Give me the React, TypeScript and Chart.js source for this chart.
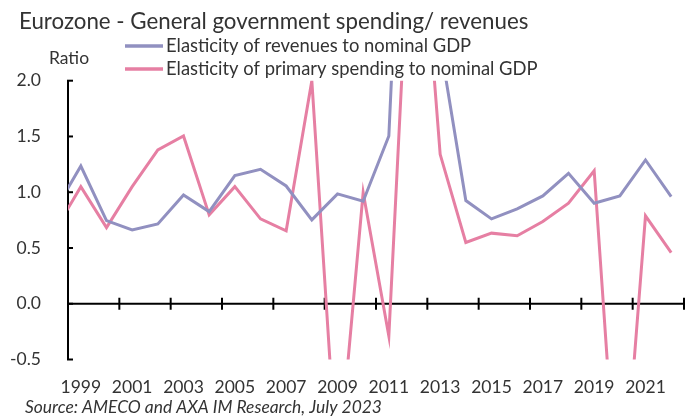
import React, { useEffect, useRef } from "react";
import { Chart, registerables } from "chart.js";

Chart.register(...registerables);

// ---- data ----
const years = [
  1998, 1999, 2000, 2001, 2002, 2003, 2004, 2005, 2006, 2007, 2008, 2009, 2010,
  2011, 2012, 2013, 2014, 2015, 2016, 2017, 2018, 2019, 2020, 2021, 2022,
];
const revenuesElasticity = [
  0.84, 1.235, 0.745, 0.662, 0.716, 0.976, 0.826, 1.149, 1.205, 1.056, 0.752,
  0.985, 0.919, 1.504, 6.5, 2.33, 0.925, 0.761, 0.85, 0.967, 1.17, 0.901, 0.967,
  1.289, 0.961,
];
const spendingElasticity = [
  0.66, 1.05, 0.683, 1.05, 1.379, 1.504, 0.797, 1.05, 0.761, 0.654, 2.0, -1.56,
  0.997, -0.29, 4.3, 1.34, 0.549, 0.633, 0.609, 0.737, 0.901, 1.193, -2.15,
  0.788, 0.459,
];
const xTickYears = [1999, 2001, 2003, 2005, 2007, 2009, 2011, 2013, 2015, 2017, 2019, 2021];
const seriesLabels = [
  "Elasticity of revenues to nominal GDP",
  "Elasticity of primary spending to nominal GDP",
];
const titleText = "Eurozone - General government spending/ revenues";
const yAxisTitle = "Ratio";
const sourceText = "Source: AMECO and AXA IM Research, July 2023";

const FONT = "Lato, 'Open Sans', sans-serif";
const TEXT_COLOR = "#333333";
const BLUE = "#9190C0";
const PINK = "#E67FA3";

const axesPlugin = {
  id: "customAxes",
  beforeDatasetsDraw(chart: any) {
    const { ctx, chartArea, scales } = chart;
    const xs = scales.x;
    const ys = scales.y;
    ctx.save();
    ctx.strokeStyle = "#000000";
    ctx.lineWidth = 2;
    // y axis line
    const left = chartArea.left;
    ctx.beginPath();
    ctx.moveTo(left, ys.getPixelForValue(ys.max));
    ctx.lineTo(left, ys.getPixelForValue(ys.min));
    ctx.stroke();
    // y ticks (inside)
    ys.ticks.forEach((t: any) => {
      const py = ys.getPixelForValue(t.value);
      ctx.beginPath();
      ctx.moveTo(left - 1, py);
      ctx.lineTo(left + 5, py);
      ctx.stroke();
    });
    // x axis line at y = 0
    const y0 = ys.getPixelForValue(0);
    ctx.beginPath();
    ctx.moveTo(xs.getPixelForValue(xs.min), y0);
    ctx.lineTo(xs.getPixelForValue(xs.max), y0);
    ctx.stroke();
    for (let v = xs.min; v <= xs.max + 1e-9; v += 2) {
      const px = xs.getPixelForValue(v);
      ctx.beginPath();
      ctx.moveTo(px, y0 - 6);
      ctx.lineTo(px, y0 + 6);
      ctx.stroke();
    }
    ctx.restore();
  },
};

const textPlugin = {
  id: "customTexts",
  afterDraw(chart: any) {
    const { ctx } = chart;
    ctx.save();
    ctx.fillStyle = TEXT_COLOR;
    ctx.textAlign = "left";
    ctx.textBaseline = "alphabetic";
    ctx.font = `22.3px ${FONT}`;
    ctx.fillText(titleText, 19, 29);

    ctx.textBaseline = "middle";
    ctx.font = `17.5px ${FONT}`;
    ctx.textAlign = "center";
    ctx.fillText(yAxisTitle, 69, 58);

    // legend
    ctx.textAlign = "left";
    chart.data.datasets.forEach((ds: any, i: number) => {
      const y = 46 + i * 23;
      ctx.strokeStyle = ds.borderColor;
      ctx.lineWidth = 3.5;
      ctx.beginPath();
      ctx.moveTo(125, y);
      ctx.lineTo(163, y);
      ctx.stroke();
      ctx.fillStyle = TEXT_COLOR;
      ctx.font = `18.4px ${FONT}`;
      ctx.fillText(ds.label, 166, y);
    });

    ctx.font = `italic 17.4px ${FONT}`;
    ctx.fillText(sourceText, 25, 407);
    ctx.restore();
  },
};

export default function App() {
  const ref = useRef<HTMLCanvasElement | null>(null);
  useEffect(() => {
    if (!ref.current) return;
    const chart = new Chart(ref.current, {
      type: "line",
      data: {
        datasets: [
          {
            label: seriesLabels[0],
            data: years.map((x, i) => ({ x, y: revenuesElasticity[i] })),
            borderColor: BLUE,
            backgroundColor: BLUE,
            borderWidth: 3,
            pointRadius: 0,
            tension: 0,
          },
          {
            label: seriesLabels[1],
            data: years.map((x, i) => ({ x, y: spendingElasticity[i] })),
            borderColor: PINK,
            backgroundColor: PINK,
            borderWidth: 3,
            pointRadius: 0,
            tension: 0,
          },
        ],
      },
      options: {
        animation: false,
        responsive: false,
        devicePixelRatio: 1,
        layout: { padding: { left: 0, top: 80.7, right: 14, bottom: 0 } },
        plugins: {
          legend: { display: false },
          title: { display: false },
          tooltip: { enabled: false },
        },
        scales: {
          x: {
            type: "linear",
            min: 1998.5,
            max: 2022.5,
            grid: { display: false },
            border: { display: false },
            afterBuildTicks: (scale: any) => {
              scale.ticks = xTickYears.map((v) => ({ value: v }));
            },
            afterFit: (scale: any) => {
              scale.height = 416 - 359.5;
            },
            ticks: {
              autoSkip: false,
              maxRotation: 0,
              padding: 9,
              color: TEXT_COLOR,
              font: { family: FONT, size: 17.5 },
              callback: (v: any) => String(v),
            },
          },
          y: {
            min: -0.5,
            max: 2.0,
            grid: { display: false },
            border: { display: false },
            afterFit: (scale: any) => {
              scale.width = 68;
            },
            ticks: {
              stepSize: 0.5,
              padding: 19,
              color: TEXT_COLOR,
              font: { family: FONT, size: 17.5 },
              callback: (v: any) => Number(v).toFixed(1),
            },
          },
        },
      },
      plugins: [axesPlugin, textPlugin],
    });
    return () => chart.destroy();
  }, []);
  return (
    <div style={{ position: "absolute", left: 0, top: 0, width: 698, height: 416, background: "#fff" }}>
      <canvas ref={ref} width={698} height={416} style={{ width: 698, height: 416, display: "block" }} />
    </div>
  );
}
